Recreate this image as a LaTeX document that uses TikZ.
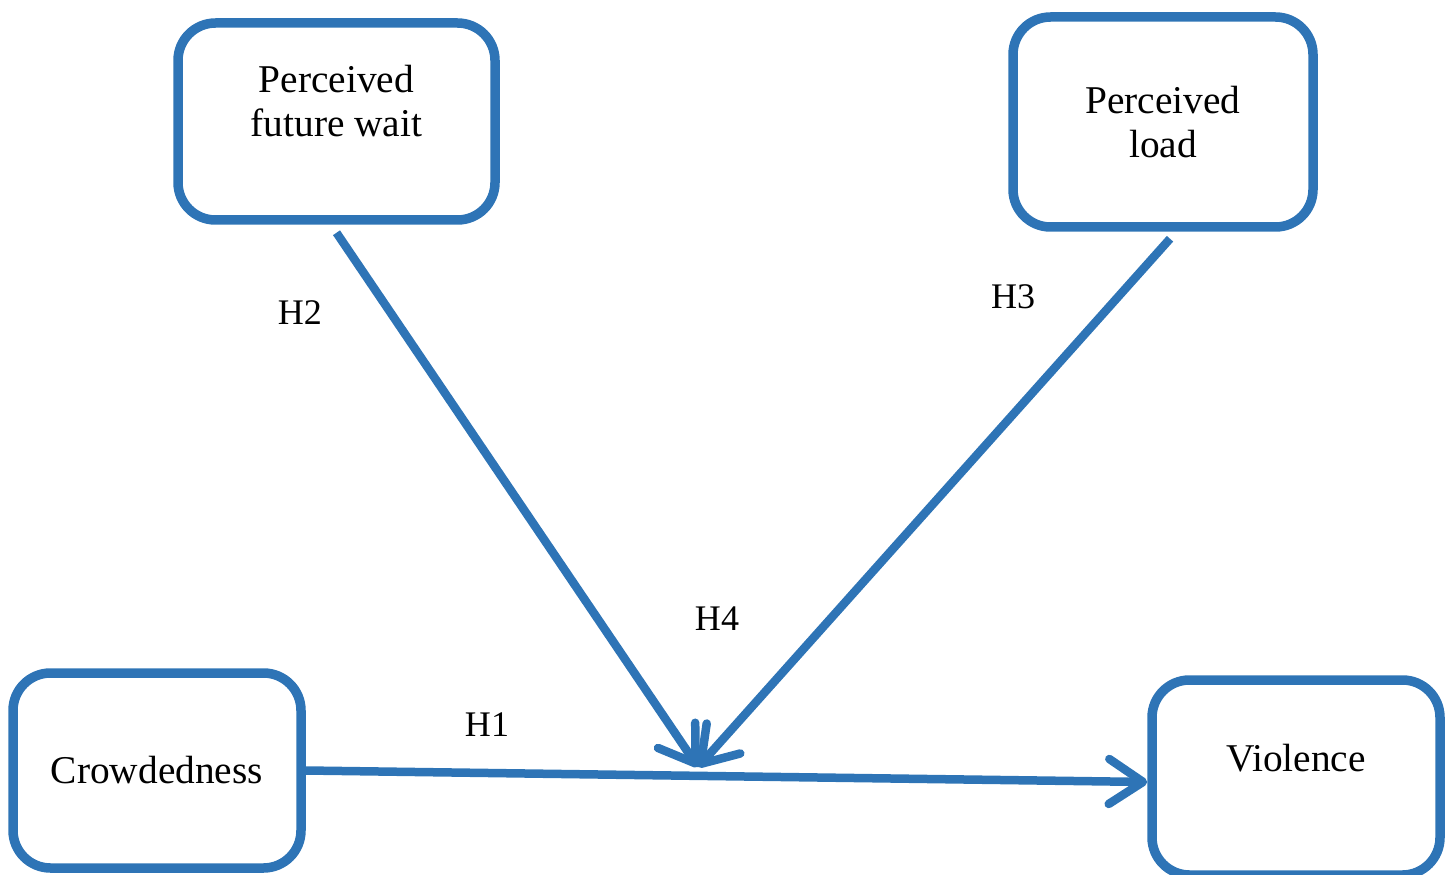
\documentclass[tikz,border=0pt]{standalone}
\usepackage{fontspec}
\setmainfont{Liberation Serif}
\usepackage{tikz}
\usetikzlibrary{arrows.meta}
\definecolor{linkblue}{RGB}{46,116,182}
\tikzset{
box/.style = {rectangle, rounded corners=0.75cm, draw=linkblue, line width=0.19cm, align=center, font=\fontsize{22.4}{25}\selectfont, minimum width = #1},
box/.default = 6cm, % width of the variable box
hyp/.style = {font=\fontsize{20.5}{24}\selectfont},
link/.style = {draw=linkblue, line width=0.17cm},
>={Straight Barb[length=0.68cm, width=0.9cm, round]},
}

\begin{document}
\begin{tikzpicture}
    \useasboundingbox (0,0) rectangle (28.96,-17.5);
    \node[box=6.34cm, minimum height=3.94cm, text depth=0.84cm] (wait) at (6.73,-2.43) {Perceived\\future wait};
    \node[box=6cm, minimum height=4.2cm] (load) at (23.26,-2.44) {Perceived\\load};
    \node[box=5.76cm, minimum height=3.9cm] (crowd) at (3.14,-15.41) {Crowdedness};
    \node[box=5.76cm, minimum height=3.9cm, text depth=0.8cm] (viol) at (25.92,-15.55) {Violence};
    \coordinate (meet) at (13.96,-15.34);

    \node[hyp] (h1) at (9.74,-14.5) {H1};
    \node[hyp] (h2) at (6.0,-6.26) {H2};
    \node[hyp] (h3) at (20.26,-5.94) {H3};
    \node[hyp] (h4) at (14.34,-12.38) {H4};

    \draw[->, link]  (crowd.east) -- ([yshift=-0.09cm]viol.west);
    \draw[->, link]  ([yshift=-0.16cm]wait.south) -- (meet);
    \draw[->, link]  ([xshift=0.14cm, yshift=-0.14cm]load.south) -- (meet);
\end{tikzpicture}
\end{document}
